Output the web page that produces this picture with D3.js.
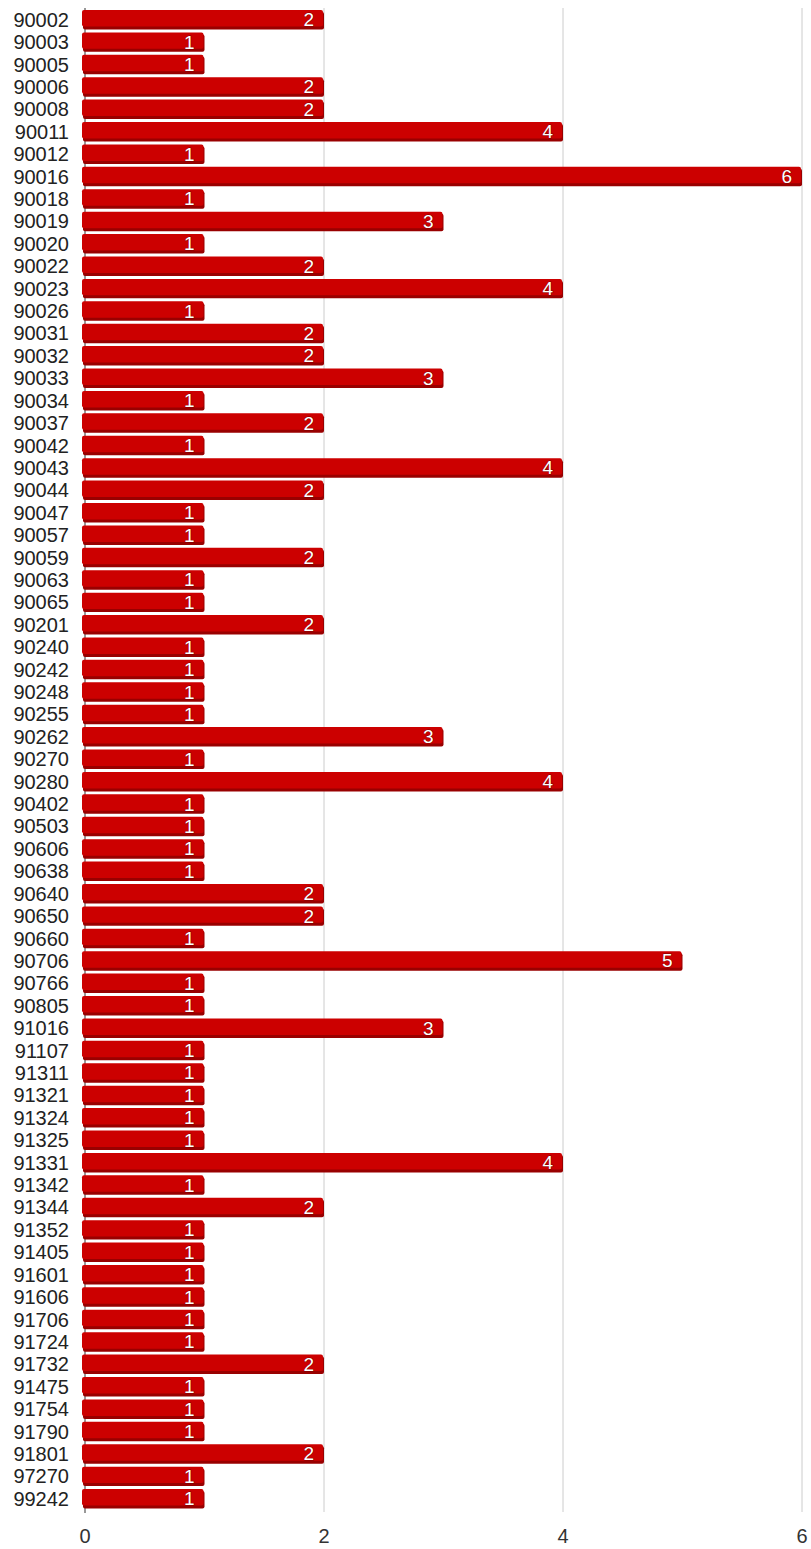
<!DOCTYPE html>
<html><head><meta charset="utf-8">
<script src="https://cdn.jsdelivr.net/npm/d3@7"></script>
<style>body{margin:0;background:#fff}svg{display:block}</style>
</head><body>
<script>
const categories = ["90002","90003","90005","90006","90008","90011","90012","90016","90018","90019","90020","90022","90023","90026","90031","90032","90033","90034","90037","90042","90043","90044","90047","90057","90059","90063","90065","90201","90240","90242","90248","90255","90262","90270","90280","90402","90503","90606","90638","90640","90650","90660","90706","90766","90805","91016","91107","91311","91321","91324","91325","91331","91342","91344","91352","91405","91601","91606","91706","91724","91732","91475","91754","91790","91801","97270","99242"];
const values = [2,1,1,2,2,4,1,6,1,3,1,2,4,1,2,2,3,1,2,1,4,2,1,1,2,1,1,2,1,1,1,1,3,1,4,1,1,1,1,2,2,1,5,1,1,3,1,1,1,1,1,4,1,2,1,1,1,1,1,1,2,1,1,1,2,1,1];
const tickValues = [0,2,4,6];

const W = 811, H = 1549;
const svg = d3.select("body").append("svg").attr("width", W).attr("height", H);
const x = d3.scaleLinear().domain([0,6]).range([85, 802]);
const y = d3.scaleBand().domain(categories).range([7.5, 1509]).paddingInner(0.22).paddingOuter(0.11);
const font = "Liberation Sans, Arial, sans-serif";

// gridlines
svg.append("g").selectAll("line").data(tickValues.filter(d=>d>0)).join("line")
  .attr("x1", d=>x(d)).attr("x2", d=>x(d)).attr("y1", 8).attr("y2", 1512)
  .attr("stroke", "#ccc").attr("stroke-width", 1);
// baseline
svg.append("line").attr("x1", x(0)).attr("x2", x(0)).attr("y1", 8).attr("y2", 1513)
  .attr("stroke", "#333").attr("stroke-width", 1);

const g = svg.append("g");
const bw = y.bandwidth();
// shadow
g.selectAll("rect.sh").data(values).join("rect").attr("class","sh")
  .attr("x", x(0) - 2).attr("y", (d,i)=>y(categories[i]) + 2)
  .attr("width", d=>x(d)-x(0)+2).attr("height", bw)
  .attr("rx", 2).attr("fill", "#990000");
// main face
g.selectAll("rect.bar").data(values).join("rect").attr("class","bar")
  .attr("x", x(0) - 3).attr("y", (d,i)=>y(categories[i]))
  .attr("width", d=>x(d)-x(0)+2).attr("height", bw - 1)
  .attr("rx", 2).attr("fill", "#cc0000");
// value labels
g.selectAll("text.val").data(values).join("text").attr("class","val")
  .attr("x", d=>x(d) - 10).attr("y", (d,i)=>y(categories[i]) + bw/2 + 1)
  .attr("text-anchor","end").attr("dominant-baseline","central")
  .attr("font-family", font).attr("font-size", 19)
  .attr("fill","#fff").attr("stroke","#7a0000").attr("stroke-width",0.8).attr("paint-order","stroke")
  .text(d=>d);

// category labels
svg.append("g").selectAll("text").data(categories).join("text")
  .attr("x", 69).attr("y", d=>y(d) + bw/2 + 1)
  .attr("text-anchor","end").attr("dominant-baseline","central")
  .attr("font-family", font).attr("font-size", 20)
  .attr("fill","#222").text(d=>d);

// x tick labels
svg.append("g").selectAll("text").data(tickValues).join("text")
  .attr("x", d=>x(d)).attr("y", 1536).attr("text-anchor","middle")
  .attr("dominant-baseline","central")
  .attr("font-family", font).attr("font-size", 20)
  .attr("fill","#333").text(d=>d);
</script>
</body></html>
